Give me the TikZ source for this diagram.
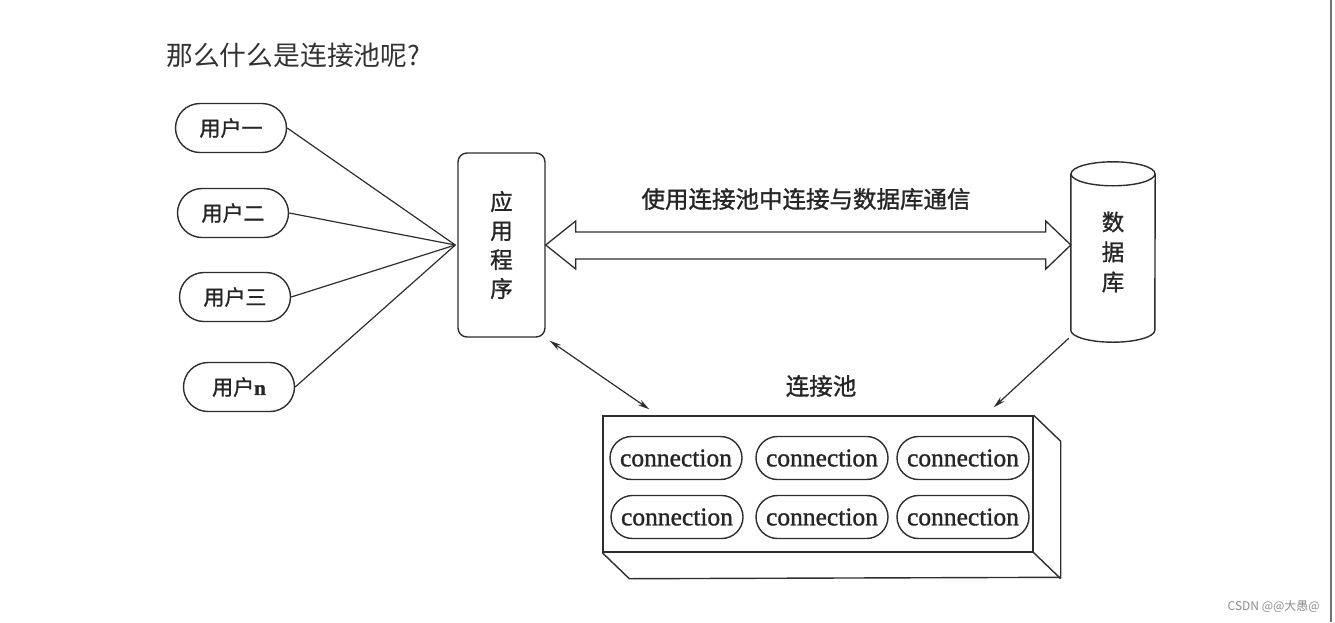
\documentclass[tikz,border=0pt]{standalone}
\usepackage{fontspec}
\setmainfont{Liberation Serif}
\newfontfamily\cjk{Noto Sans CJK SC}
\newfontfamily\cjkd[FakeBold=1.2]{Noto Sans CJK SC}
\newfontfamily\connf[FakeBold=1.2]{Liberation Serif}
\usetikzlibrary{shapes.misc,calc,arrows.meta}
\begin{document}
\begin{tikzpicture}[x=1pt,y=-1pt,
  line/.style={draw=black!82,line width=1.4pt},
  userpill/.style={rounded rectangle,line,minimum height=49pt,minimum width=111pt,inner sep=0pt,font=\cjkd\fontsize{21}{21}\selectfont,text=black!85},
  connpill/.style={rounded rectangle,line,minimum height=43pt,minimum width=132pt,inner sep=0pt,font=\connf\fontsize{25.5}{25.5}\selectfont,text=black!85},
  lbl/.style={font=\cjkd\fontsize{23.5}{23.5}\selectfont,text=black!85},
  tipb/.style={{Stealth[length=12pt,width=6pt]}-{Stealth[length=12pt,width=6pt]}},
  tipe/.style={-{Stealth[length=12pt,width=6pt]}},
]
\useasboundingbox (0,0) rectangle (1335,622);
\fill[white] (0,0) rectangle (1335,622);
\draw[black!55,line width=2pt] (1331,0) -- (1331,622);

\node[anchor=west,inner sep=0pt,font=\cjk\fontsize{26.8}{26.8}\selectfont,text=black!80] (title) at (166,55) {那么什么是连接池呢?};

% users
\node[userpill] (u1) at (231,128) {用户一};
\node[userpill] (u2) at (233,213) {用户二};
\node[userpill] (u3) at (235,297) {用户三};
\node[userpill] (u4) at (239,387) {用户{\connf\bfseries n}};

% application
\node[line,rounded corners=9pt,minimum width=87pt,minimum height=184pt,inner sep=0pt,align=center,font=\cjkd\fontsize{22.5}{29}\selectfont,text=black!85] (app) at (501.5,245) {应\\用\\程\\序};
\coordinate (hub) at ($(app.west)+(-2,0)$);
\foreach \u in {u1,u2,u3,u4} \draw[line,line width=1.2pt] (\u.east) -- (hub);

% database
\node[minimum width=84pt,minimum height=156pt,inner sep=0pt,align=center,font=\cjkd\fontsize{22.5}{30}\selectfont,text=black!85] (db) at (1113,252) {数\\据\\库};
\draw[line] (db.north) ellipse [x radius=42pt,y radius=12pt];
\draw[line] (db.north west) -- (db.south west) arc [start angle=180,end angle=360,x radius=42pt,y radius=12pt] -- (db.north east);

% double arrow
\draw[line,line width=1.3pt] (app.east) -- ++(30,-24) -- ++(0,11) -- ($(app.east -| db.west)+(-25,-13)$) -- ++(0,-11) -- (app.east -| db.west) -- ++(-25,24) -- ++(0,-10) -- ($(app.east)+(30,14)$) -- ++(0,10) -- cycle;
\node[lbl] (comm) at (806,199) {使用连接池中连接与数据库通信};

% pool
\node[line,minimum width=430pt,minimum height=136pt,inner sep=0pt] (pool) at (818,484) {};
\draw[line] (pool.north east) -- ++(27,26) -- ++(0,136) -- ($(pool.south west)+(27,26)$) -- (pool.south west);
\draw[line] (pool.south east) -- ++(27,26);
\node[lbl] (poollbl) at (821,386) {连接池};

\node[connpill] (c11) at (676,458) {connection};
\node[connpill] (c12) at (822,458) {connection};
\node[connpill] (c13) at (963,458) {connection};
\node[connpill] (c21) at (677,517) {connection};
\node[connpill] (c22) at (822,517) {connection};
\node[connpill] (c23) at (963,517) {connection};

% arrows to pool
\draw[line,line width=1.2pt,tipb] ($(app.south east)+(4,3)$) -- ($(pool.north west)+(47,-6)$);
\draw[line,line width=1.2pt,tipe] ($(db.south west)+(-2,8)$) -- ($(pool.north east)+(-40,-8)$);

\node[anchor=east,inner sep=0pt,font=\cjk\fontsize{12}{12}\selectfont,text=black!45] (wm) at (1320,606) {CSDN @@大愚@};
\end{tikzpicture}
\end{document}
